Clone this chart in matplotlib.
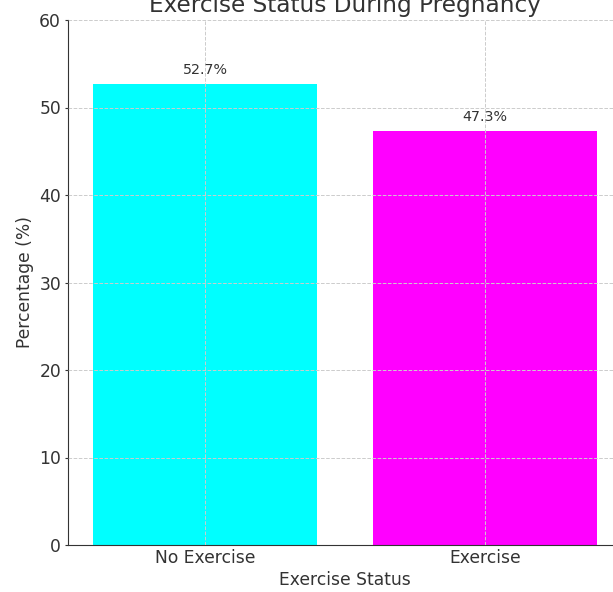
import matplotlib.pyplot as plt

categorias = ["No Exercise", "Exercise"]
porcentajes = [52.7, 47.3]
colores = ["#00FFFF", "#FF00FF"]

texto = "#333333"

fig = plt.figure(figsize=(6.13, 5.92), dpi=100)
# the axes runs past the right edge, as in the reference crop
ax = fig.add_axes([68/613, 47/592, 554/613, 525/592])

barras = ax.bar(categorias, porcentajes, color=colores, width=0.8)
for b, v in zip(barras, porcentajes):
    ax.annotate(f"{v}%", (b.get_x() + b.get_width()/2, v), xytext=(0, 5),
                textcoords="offset points", ha="center", va="bottom",
                fontsize=10.3, color=texto)

ax.set_ylim(0, 60)
ax.set_title("Exercise Status During Pregnancy", fontsize=16.7, color=texto)
ax.set_xlabel("Exercise Status", fontsize=12.3, color=texto, labelpad=3)
ax.set_ylabel("Percentage (%)", fontsize=12.3, color=texto, labelpad=3.5)
ax.tick_params(labelsize=12.3, colors=texto)
ax.tick_params(axis="x", length=0, pad=3)
ax.tick_params(axis="y", length=2.5, pad=2.5)
ax.grid(True, linestyle="--", color="#cccccc", linewidth=0.7)
ax.set_axisbelow(False)
ax.spines["top"].set_visible(False)
ax.spines["right"].set_visible(False)
ax.spines["left"].set_color(texto)
ax.spines["bottom"].set_color(texto)

plt.savefig("out.png", dpi=100)
